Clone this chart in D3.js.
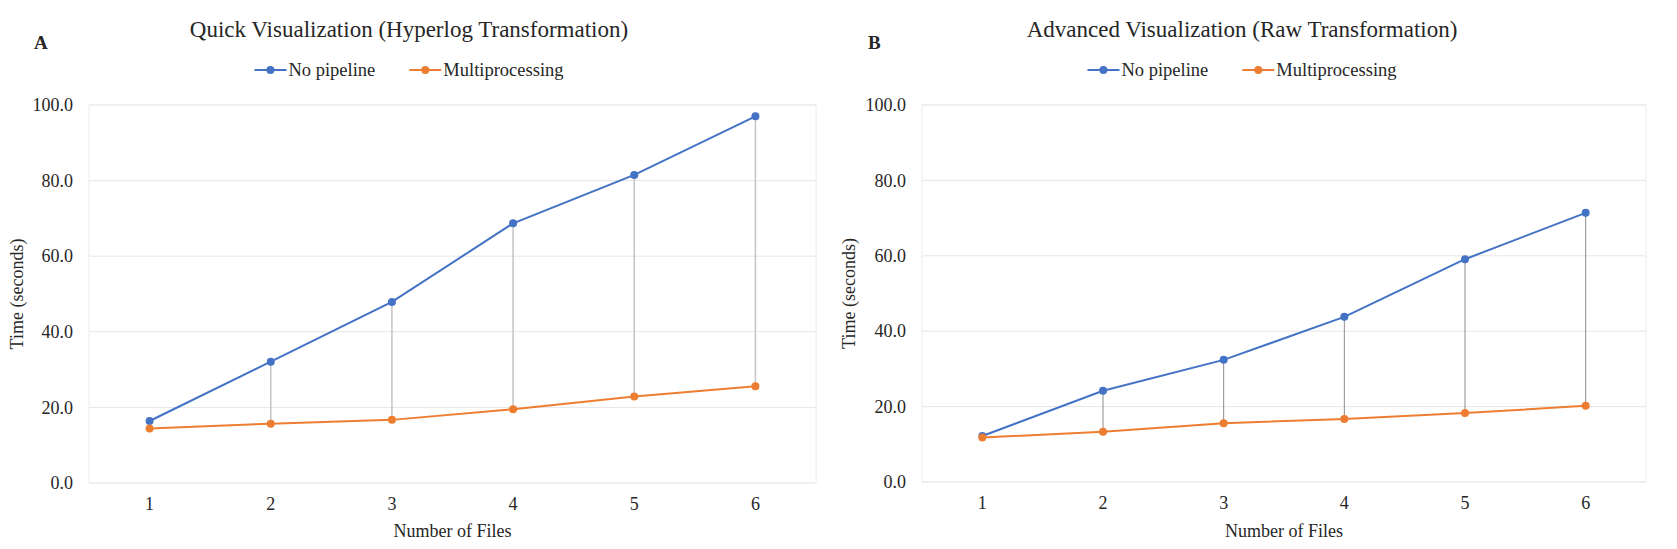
<!DOCTYPE html>
<html>
<head>
<meta charset="utf-8">
<script src="https://cdn.jsdelivr.net/npm/d3@7"></script>
<style>
  html, body { margin: 0; padding: 0; background: #fff; }
  svg text { font-family: "Liberation Serif", "DejaVu Serif", serif; fill: #262626; }
</style>
</head>
<body>
<svg id="chart" width="1677" height="549"></svg>
<script>
"use strict";

// categories (number of files)
var files = [1, 2, 3, 4, 5, 6];
var yTicks = [0, 20, 40, 60, 80, 100];
var seriesNames = ["No pipeline", "Multiprocessing"];

// panel A: quick visualization (hyperlog)
var quickNoPipeline = [16.4, 32.1, 47.9, 68.7, 81.5, 97.0];
var quickMulti = [14.4, 15.7, 16.7, 19.5, 22.9, 25.6];

// panel B: advanced visualization (raw)
var advNoPipeline = [12.2, 24.2, 32.4, 43.8, 59.1, 71.4];
var advMulti = [11.8, 13.3, 15.6, 16.7, 18.3, 20.2];

var colors = ["#4472C4", "#ED7D31"];

var svg = d3.select("#chart");

var panels = [
  { letter: "A", title: "Quick Visualization  (Hyperlog Transformation)",
    series: [quickNoPipeline, quickMulti],
    left: 89, right: 816, top: 105, bottom: 483, center: 409, letterX: 34, yTitleX: 17,
    dropColor: "#c4c4c4", dropWidth: 1.5 },
  { letter: "B", title: "Advanced Visualization  (Raw Transformation)",
    series: [advNoPipeline, advMulti],
    left: 922, right: 1646, top: 105, bottom: 482, center: 1242, letterX: 868, yTitleX: 849,
    dropColor: "#8c8c8c", dropWidth: 1 }
];

panels.forEach(function (p) {
  var g = svg.append("g");

  var x = d3.scaleBand().domain(files).range([p.left, p.right]);
  var y = d3.scaleLinear().domain([0, 100]).range([p.bottom, p.top]);
  var cx = function (d, i) { return x(files[i]) + x.bandwidth() / 2; };

  // grid
  g.append("g").selectAll("line").data(yTicks).enter().append("line")
    .attr("x1", p.left).attr("x2", p.right)
    .attr("y1", function (d) { return y(d); }).attr("y2", function (d) { return y(d); })
    .attr("stroke", "#e6e6e6").attr("stroke-width", 1);

  g.append("rect")
    .attr("x", p.left).attr("y", p.top)
    .attr("width", p.right - p.left).attr("height", p.bottom - p.top)
    .attr("fill", "none").attr("stroke", "#ececec").attr("stroke-width", 1);

  // y axis labels
  var yAxis = d3.axisLeft(y).tickValues(yTicks).tickFormat(d3.format(".1f")).tickSize(0).tickPadding(16);
  var ya = g.append("g").attr("transform", "translate(" + p.left + ",0)").call(yAxis);
  ya.select(".domain").remove();
  ya.selectAll("text").style("font-size", "18px").attr("fill", "#262626");

  // x axis labels
  var xAxis = d3.axisBottom(x).tickSize(0).tickPadding(14);
  var xa = g.append("g").attr("transform", "translate(0," + p.bottom + ")").call(xAxis);
  xa.select(".domain").remove();
  xa.selectAll("text").style("font-size", "18px").attr("fill", "#262626");

  // axis titles
  g.append("text")
    .attr("transform", "translate(" + p.yTitleX + "," + ((p.top + p.bottom) / 2) + ") rotate(-90)")
    .attr("text-anchor", "middle").attr("dy", "0.35em")
    .style("font-size", "18px").text("Time (seconds)");

  g.append("text")
    .attr("x", (p.left + p.right) / 2).attr("y", 537)
    .attr("text-anchor", "middle").style("font-size", "18px").text("Number of Files");

  // drop lines between series
  var top = p.series[0], low = p.series[1];
  g.append("g").selectAll("line").data(files).enter().append("line")
    .attr("x1", function (d, i) { return cx(d, i); })
    .attr("x2", function (d, i) { return cx(d, i); })
    .attr("y1", function (d, i) { return y(top[i]); })
    .attr("y2", function (d, i) { return y(low[i]); })
    .attr("stroke", p.dropColor).attr("stroke-width", p.dropWidth);

  // series lines + markers
  p.series.forEach(function (vals, s) {
    var line = d3.line().x(function (d, i) { return cx(d, i); }).y(function (d) { return y(d); });
    g.append("path").datum(vals)
      .attr("d", line).attr("fill", "none")
      .attr("stroke", colors[s]).attr("stroke-width", 2);
    g.append("g").selectAll("circle").data(vals).enter().append("circle")
      .attr("cx", function (d, i) { return cx(d, i); })
      .attr("cy", function (d) { return y(d); })
      .attr("r", 4).attr("fill", colors[s]);
  });

  // title and panel letter
  g.append("text").attr("x", p.center).attr("y", 37)
    .attr("text-anchor", "middle").style("font-size", "23px").text(p.title);
  g.append("text").attr("x", p.letterX).attr("y", 49)
    .style("font-size", "19px").style("font-weight", "bold").text(p.letter);

  // legend, centred on the chart
  var leg = g.append("g");
  var xpos = 0, gap = 34;
  seriesNames.forEach(function (name, s) {
    var item = leg.append("g").attr("transform", "translate(" + xpos + ",0)");
    item.append("line").attr("x1", 0).attr("x2", 32).attr("y1", 0).attr("y2", 0)
      .attr("stroke", colors[s]).attr("stroke-width", 2);
    item.append("circle").attr("cx", 16).attr("cy", 0).attr("r", 4).attr("fill", colors[s]);
    var t = item.append("text").attr("x", 34).attr("dy", "0.35em")
      .style("font-size", "18.5px").text(name);
    xpos += 34 + t.node().getComputedTextLength() + gap;
  });
  var legW = xpos - gap;
  leg.attr("transform", "translate(" + (p.center - legW / 2) + ",70)");
});
</script>
</body>
</html>
